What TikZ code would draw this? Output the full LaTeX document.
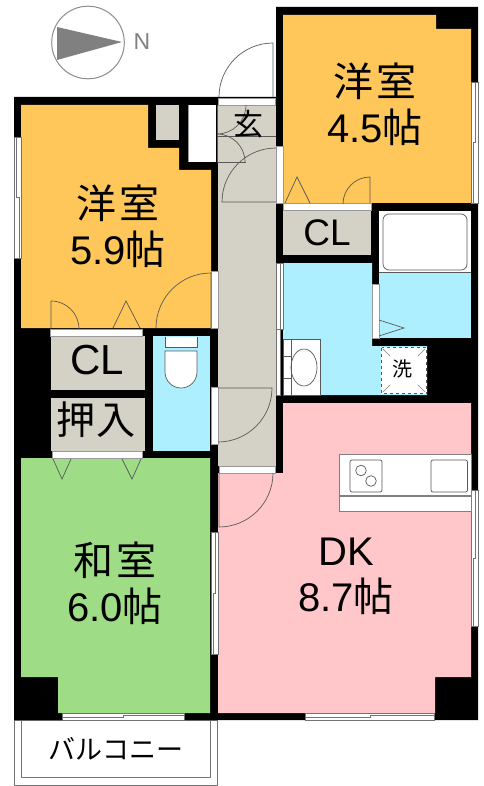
\documentclass[tikz,border=0pt]{standalone}
\usepackage{fontspec}
\setmainfont{Liberation Sans}
\newfontfamily\jp{Noto Sans CJK JP}
\tikzset{
  room/.style={font=\fontsize{40}{46}\selectfont, align=center, inner sep=0pt},
  tag/.style={font=\fontsize{#1}{#1}\selectfont, inner sep=0pt},
  fitting/.style={draw=black!65, line width=0.7pt},
  strip/.style={fill=white, draw=black!40, line width=0.5pt},
  pane/.style={fill=white, draw=black!55, line width=0.8pt},
  mullion/.style={draw=black!55, line width=0.8pt}
}
\definecolor{yoshitsu}{HTML}{FFC65A}
\definecolor{genkan}{HTML}{D4D1C6}
\definecolor{mizu}{HTML}{AEEFFF}
\definecolor{dk}{HTML}{FFC7C9}
\definecolor{washitsu}{HTML}{9EDD86}
\begin{document}
\begin{tikzpicture}[x=1pt,y=-1pt]
\useasboundingbox (0,0) rectangle (483,786);

% compass
\draw[black!45, line width=1pt] (88,42.5) circle (36.3);
\fill[black!50] (57,27) -- (122,42) -- (57,60) -- cycle;
\node[tag=23, text=black!50] (north) at (142,42) {N};

% balcony
\draw[black!55, fill=white, line width=0.8pt] (14,720) rectangle (217,785);
\draw[black!55, line width=0.8pt] (21,720) rectangle (210,777);

% walls
\fill[black] (14,97) -- (276,97) -- (276,7) -- (478,7) -- (478,720) -- (14,720) -- cycle;

% rooms
\fill[yoshitsu] (21,105) -- (148,105) -- (148,148) -- (179,148) -- (179,170) -- (211,170) -- (211,328) -- (21,328) -- cycle;
\fill[yoshitsu] (283,15) -- (436,15) -- (436,29) -- (471,29) -- (471,203) -- (283,203) -- cycle;
\fill[washitsu] (21,458) -- (210,458) -- (210,713) -- (58,713) -- (58,677) -- (21,677) -- cycle;
\fill[dk] (283,403) -- (471,403) -- (471,677) -- (435,677) -- (435,713) -- (218,713) -- (218,473) -- (283,473) -- cycle;
\fill[genkan] (218,105) rectangle (276,466);
\fill[genkan] (156,105) rectangle (179,140);
\fill[genkan] (283,211) rectangle (371,255);
\fill[genkan] (51,336) rectangle (145,390);
\fill[genkan] (51,398) rectangle (145,451);
\fill[white] (188,105) rectangle (216,162);
\draw[black!40, line width=0.6pt] (188,105) -- (188,162);
\fill[mizu] (153,336) rectangle (210,451);
\fill[mizu] (283,263) -- (372,263) -- (372,346) -- (427,346) -- (427,395) -- (283,395) -- cycle;
\fill[white] (379,211) rectangle (471,272);
\fill[mizu] (379,272) rectangle (471,338);
\draw[black!65, line width=0.6pt] (379,272) -- (471,272);

% door strips
\fill[strip] (218,98) rectangle (275,105);
\fill[strip] (276,146) rectangle (283,203);
\fill[strip] (283,203) rectangle (371,210);
\fill[strip] (211,271) rectangle (218,328);
\fill[strip] (50,329) rectangle (142,336);
\fill[strip] (52,451) rectangle (142,458);
\fill[strip] (211,387) rectangle (218,444);
\fill[strip] (219,466) rectangle (275,473);
\fill[strip] (372,284) rectangle (379,338);

% windows
\fill[pane] (14,137) rectangle (21,258);
\draw[mullion] (16.5,137) -- (16.5,197) -- (19,197) -- (19,258);
\fill[pane] (471,82) rectangle (478,203);
\draw[mullion] (475.5,82) -- (475.5,142) -- (473,142) -- (473,203);
\fill[pane] (471,490) rectangle (478,626);
\draw[mullion] (475.5,490) -- (475.5,558) -- (473,558) -- (473,626);
\fill[pane] (211,532) rectangle (218,654);
\draw[mullion] (215.5,532) -- (215.5,593) -- (213,593) -- (213,654);
\fill[pane] (62,713) rectangle (184,720);
\draw[mullion] (62,717.5) -- (123,717.5) -- (123,715) -- (184,715);
\fill[pane] (305,713) rectangle (434,720);
\draw[mullion] (305,717.5) -- (370,717.5) -- (370,715) -- (434,715);
\fill[pane] (276,263) rectangle (283,329);
\draw[mullion] (280,263) -- (280,329);
\fill[pane] (276,329) rectangle (280,395);

% doors
\draw[fitting] (273,97) -- (273,43) arc (-90:-180:54);
\draw[fitting] (219,473) -- (219,527) arc (90:0:54);
\draw[fitting] (276,202) -- (222,202) arc (180:270:54);
\draw[fitting] (218,388) -- (272,388) arc (0:90:54);
\draw[fitting] (211,328) -- (211,273) arc (-90:-180:55);
\draw[fitting] (217,134) arc (90:0:29);
\draw[fitting] (217,134) arc (-90:0:28);
\draw[fitting] (217,136) -- (276,136);
\draw[fitting] (217,162) -- (246,162);
\draw[fitting] (217,105) -- (217,162);

% closet doors
\draw[fitting] (51,328) -- (51,301) arc (-90:0:28);
\draw[fitting] (113,328) -- (126,301) -- (140,328);
\draw[fitting] (285,203) -- (297,177) -- (310,203);
\draw[fitting] (370,203) -- (370,177) arc (-90:-180:27);
\draw[fitting] (53,459) -- (62,479) -- (71,459);
\draw[fitting] (122,459) -- (132,479) -- (141,459);
\draw[fitting] (379,320) -- (404,328) -- (379,336);

% toilet
\draw[fitting, fill=white] (165,337) -- (165,347) -- (197,347) -- (197,337);
\draw[fitting, fill=white] (165,351) -- (197,351) -- (197,372) arc (0:180:16) -- cycle;

% bath
\draw[fitting, fill=white, rounded corners=6pt] (383,214) rectangle (467,270);

% vanity
\draw[fitting, fill=white] (283,339) rectangle (320.5,395);
\draw[fitting] (291,339) -- (291,395);
\draw[fitting] (283,356) -- (291,356);
\draw[fitting] (283,378) -- (291,378);
\draw[fitting] (304,367.5) ellipse (13 and 18.5);

% washer pan
\fill[white] (381,347) rectangle (427,394);
\draw[black!65, dashed, line width=0.9pt] (381.5,347.5) rectangle (426.5,393.5);
\draw[black!50, line width=0.5pt] (383,349) -- (390,356);
\draw[black!50, line width=0.5pt] (425,349) -- (418,356);
\draw[black!50, line width=0.5pt] (383,392) -- (390,385);
\draw[black!50, line width=0.5pt] (425,392) -- (418,385);

% kitchen
\draw[black!50, fill=white, line width=0.6pt] (339,454) rectangle (471,511);
\fill[black!50] (339,495) rectangle (471,497);
\draw[fitting, rounded corners=2pt] (350,460) rectangle (382,492);
\draw[fitting] (361,470.5) circle (5.3);
\draw[fitting] (371,481) circle (5.3);
\draw[fitting, rounded corners=2pt] (431,460) rectangle (467.5,492);

% labels
\node[room] (room1) at (118,226) {{\jp 洋\hspace{3pt}室}\\5.9{\jp 帖}};
\node[room] (room2) at (375,104) {{\jp 洋\hspace{3pt}室}\\4.5{\jp 帖}};
\node[room] (room3) at (115,583) {{\jp 和\hspace{3pt}室}\\6.0{\jp 帖}};
\node[room] (room4) at (346,576) {DK\\8.7{\jp 帖}};
\node[tag=37] (cl1) at (327,233) {CL};
\node[tag=42] (cl2) at (97,360) {CL};
\node[tag=39] (oshiire) at (96,420) {\jp 押\hspace{2pt}入};
\node[tag=30] (entry) at (248,124) {\jp 玄};
\node[tag=20] (wash) at (402,369) {\jp 洗};
\node[tag=27] (balcony) at (116,749) {\jp バルコニー};
\end{tikzpicture}
\end{document}
